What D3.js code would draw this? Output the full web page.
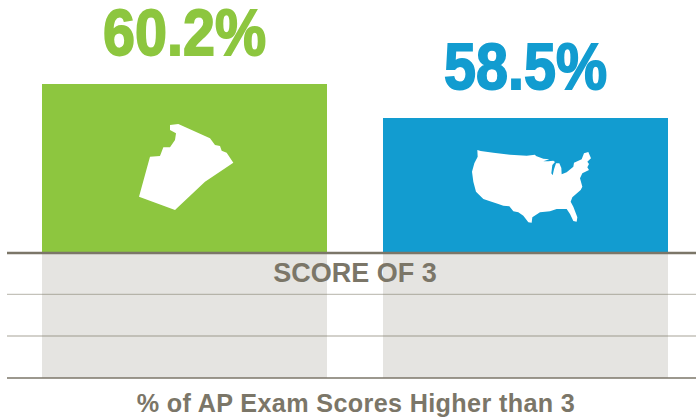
<!DOCTYPE html>
<html>
<head>
<meta charset="utf-8">
<script src="https://cdn.jsdelivr.net/npm/d3@7"></script>
<style>
  html, body { margin: 0; padding: 0; background: #fff; }
  svg { display: block; }
  text { font-family: "Liberation Sans", Arial, sans-serif; font-weight: bold; }
</style>
</head>
<body>
<script>
// Chart values
const regions = ['Local', 'National'];
const scores = [60.2, 58.5];
const barColors = ['#8dc63f', '#129cd0'];
const scoreFloor = 45.5;
const baseScore = 51.75;
const gridScores = [49.68, 47.6];
const bandLabel = 'SCORE OF 3';
const axisLabel = '% of AP Exam Scores Higher than 3';

// Icon outlines, in zoom-crop units (3 units = 1px)
const stateOutline = [[150,45],[175,42],[270,85],[285,105],[300,108],[305,122],[320,128],[340,158],[255,215],[165,300],[57,260],[90,140],[120,138],[130,112],[150,112],[165,90],[168,70],[150,60]];
const usOutline = [[52,30],[62,33],[100,38],[150,44],[200,47],[225,44],[228,48],[250,56],[268,58],[250,64],[265,64],[280,62],[285,66],[277,75],[274,100],[278,106],[282,88],[288,70],[298,70],[304,84],[305,103],[320,97],[340,80],[342,68],[365,58],[372,40],[385,36],[393,55],[382,65],[387,72],[382,82],[387,90],[367,100],[360,115],[367,140],[362,150],[337,172],[332,185],[340,200],[352,232],[350,245],[340,243],[330,222],[320,207],[290,207],[270,214],[240,217],[217,232],[215,248],[205,247],[190,227],[175,217],[160,214],[148,199],[130,197],[115,192],[90,184],[70,177],[48,155],[40,125],[36,95],[43,70],[53,50]];
const outlines = [stateOutline, usOutline];
const iconOffsets = [[78, 26], [77, 22]];

const width = 696, height = 417;

const svg = d3.select('body').append('svg')
    .attr('width', width)
    .attr('height', height);

const x = d3.scaleBand()
    .domain(regions)
    .range([42, 668])
    .paddingInner(56 / 341);

const y = d3.scaleLinear()
    .domain([scoreFloor, scores[0]])
    .range([378, 84]);

// Thin rules sit under the translucent grey bars
svg.selectAll('.grid')
    .data(gridScores)
    .join('line')
    .attr('class', 'grid')
    .attr('x1', 7)
    .attr('x2', width)
    .attr('y1', d => y(d))
    .attr('y2', d => y(d))
    .attr('stroke', '#c4c2ba')
    .attr('stroke-width', 1.4);

svg.selectAll('.band')
    .data(regions)
    .join('rect')
    .attr('class', 'band')
    .attr('x', d => x(d))
    .attr('y', y(baseScore))
    .attr('width', x.bandwidth())
    .attr('height', y(scoreFloor) - y(baseScore))
    .attr('fill', '#7b7668')
    .attr('fill-opacity', 0.2);

svg.selectAll('.bar')
    .data(regions)
    .join('rect')
    .attr('class', 'bar')
    .attr('x', d => x(d))
    .attr('y', (d, i) => y(scores[i]))
    .attr('width', x.bandwidth())
    .attr('height', (d, i) => y(baseScore) - y(scores[i]))
    .attr('fill', (d, i) => barColors[i]);

// Base and floor rules
svg.append('line')
    .attr('x1', 7).attr('x2', width)
    .attr('y1', y(baseScore)).attr('y2', y(baseScore))
    .attr('stroke', '#7b7668')
    .attr('stroke-width', 2.6);

svg.append('line')
    .attr('x1', 7).attr('x2', width)
    .attr('y1', y(scoreFloor)).attr('y2', y(scoreFloor))
    .attr('stroke', '#7b7668')
    .attr('stroke-width', 1.4);

// Map icons
const line = d3.line().curve(d3.curveLinearClosed);
svg.selectAll('.icon')
    .data(regions)
    .join('path')
    .attr('class', 'icon')
    .attr('d', (d, i) => line(outlines[i]))
    .attr('transform', (d, i) => `translate(${x(d) + iconOffsets[i][0]},${y(scores[i]) + iconOffsets[i][1]}) scale(${1 / 3})`)
    .attr('fill', '#fff');

// Value labels, stretched upward to match the tall condensed face
svg.selectAll('.value')
    .data(regions)
    .join('text')
    .attr('class', 'value')
    .attr('transform', (d, i) => `translate(${x(d) + x.bandwidth() / 2},${y(scores[i]) - 29.5}) scale(1,1.14)`)
    .attr('text-anchor', 'middle')
    .attr('font-size', 57.5)
    .attr('fill', (d, i) => barColors[i])
    .attr('stroke', (d, i) => barColors[i])
    .attr('stroke-width', 1.6)
    .text((d, i) => scores[i].toFixed(1) + '%');

svg.append('text')
    .attr('x', 355)
    .attr('y', 282)
    .attr('text-anchor', 'middle')
    .attr('font-size', 27)
    .attr('fill', '#7b7668')
    .text(bandLabel);

svg.append('text')
    .attr('x', 356)
    .attr('y', 412)
    .attr('text-anchor', 'middle')
    .attr('font-size', 25.2)
    .attr('letter-spacing', 0.35)
    .attr('fill', '#7b7668')
    .text(axisLabel);
</script>
</body>
</html>
